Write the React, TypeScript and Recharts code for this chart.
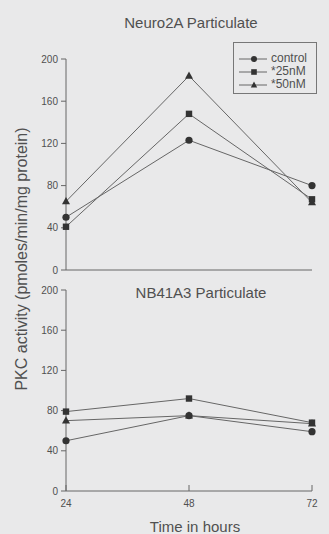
import React from 'react';
import { LineChart, Line, XAxis, YAxis, Legend } from 'recharts';

// time points (hours) and PKC activity per treatment
const hours = [24, 48, 72];
const yTicks = [0, 40, 80, 120, 160, 200];

const neuroControl = [50, 123, 80];
const neuro25nM = [41, 148, 67];
const neuro50nM = [65, 184, 64];

const nbControl = [50, 75, 59];
const nb25nM = [79, 92, 68];
const nb50nM = [70, 75, 67];

const seriesNames = ['control', '*25nM', '*50nM'];

const BG = '#e9e9ea';
const INK = '#505050';
const LINE = '#666';
const MARK = '#333';
const FONT = '"Liberation Sans", Arial, sans-serif';

const buildRows = (c: number[], a: number[], b: number[]) =>
  hours.map((h, i) => ({ hour: h, control: c[i], n25: a[i], n50: b[i] }));

const neuroData = buildRows(neuroControl, neuro25nM, neuro50nM);
const nbData = buildRows(nbControl, nb25nM, nb50nM);

const CircleDot = (p: any) => (
  <circle key={`c-${p.index}`} cx={p.cx} cy={p.cy} r={3.6} fill={MARK} />
);
const SquareDot = (p: any) => (
  <rect key={`s-${p.index}`} x={p.cx - 3.2} y={p.cy - 3.2} width={6.4} height={6.4} fill={MARK} />
);
const TriangleDot = (p: any) => (
  <path
    key={`t-${p.index}`}
    d={`M${p.cx},${p.cy - 4.5} L${p.cx + 4},${p.cy + 2.8} L${p.cx - 4},${p.cy + 2.8} Z`}
    fill={MARK}
  />
);

const legendIcon = (i: number) => {
  const cx = 17;
  const cy = 6;
  return (
    <svg width={30} height={12}>
      <line x1={2} y1={cy} x2={30} y2={cy} stroke={LINE} strokeWidth={1} />
      {i === 0 && <circle cx={cx} cy={cy} r={3} fill={MARK} />}
      {i === 1 && <rect x={cx - 2.8} y={cy - 2.8} width={5.6} height={5.6} fill={MARK} />}
      {i === 2 && <path d={`M${cx},${cy - 3.6} L${cx + 3.2},${cy + 2.4} L${cx - 3.2},${cy + 2.4} Z`} fill={MARK} />}
    </svg>
  );
};

const renderLegend = () => (
  <div
    style={{
      border: '1px solid #777',
      width: 84,
      height: 52,
      boxSizing: 'border-box',
      padding: '9px 0 0 3px',
      fontFamily: FONT,
      fontSize: 12,
      color: INK,
      lineHeight: '13px',
    }}
  >
    {seriesNames.map((n, i) => (
      <div key={n} style={{ display: 'flex', alignItems: 'center', height: 13 }}>
        {legendIcon(i)}
        <span style={{ marginLeft: 4 }}>{n}</span>
      </div>
    ))}
  </div>
);

const BottomTick = (p: any) => (
  <g>
    <line x1={p.x} y1={p.y} x2={p.x} y2={p.y - 6} stroke={LINE} />
    <text x={p.x} y={p.y + 16} textAnchor="middle" fontSize={10} fill={INK} fontFamily={FONT}>
      {p.payload.value}
    </text>
  </g>
);

const yAxisProps = {
  type: 'number' as const,
  domain: [0, 200],
  ticks: yTicks,
  width: 66,
  tickSize: 5,
  tickMargin: 3,
  stroke: LINE,
  tick: { fontSize: 10, fill: INK, fontFamily: FONT },
};

const seriesLines = () => [
  <Line key="n50" dataKey="n50" name="*50nM" stroke={LINE} strokeWidth={1} dot={TriangleDot} isAnimationActive={false} />,
  <Line key="n25" dataKey="n25" name="*25nM" stroke={LINE} strokeWidth={1} dot={SquareDot} isAnimationActive={false} />,
  <Line key="control" dataKey="control" name="control" stroke={LINE} strokeWidth={1} dot={CircleDot} isAnimationActive={false} />,
];

export default function App() {
  return (
    <div
      style={{
        position: 'absolute',
        left: 0,
        top: 0,
        width: 329,
        height: 534,
        background: BG,
        fontFamily: FONT,
        overflow: 'hidden',
      }}
    >
      <div style={{ position: 'absolute', left: 0, top: 0 }}>
        <LineChart width={329} height={280} data={neuroData} margin={{ top: 59, right: 17, bottom: 0, left: 0 }}>
          <XAxis dataKey="hour" type="number" domain={[24, 72]} ticks={hours} height={10} tick={false} tickLine={false} stroke={LINE} />
          <YAxis {...yAxisProps} />
          {seriesLines()}
          {/* centred/middle so the legend does not eat into the plot area */}
          <Legend
            layout="vertical"
            verticalAlign="middle"
            align="center"
            content={renderLegend}
            wrapperStyle={{ top: 42, left: 233, width: 86 }}
          />
        </LineChart>
      </div>
      <div style={{ position: 'absolute', left: 0, top: 280 }}>
        <LineChart width={329} height={254} data={nbData} margin={{ top: 10, right: 17, bottom: 0, left: 0 }}>
          <XAxis
            dataKey="hour"
            type="number"
            domain={[24, 72]}
            ticks={hours}
            height={43}
            tickSize={0}
            tickMargin={0}
            tickLine={false}
            tick={BottomTick}
            stroke={LINE}
          />
          <YAxis {...yAxisProps} />
          {seriesLines()}
        </LineChart>
      </div>
      <svg width={329} height={534} style={{ position: 'absolute', left: 0, top: 0, pointerEvents: 'none' }}>
        <text x={191} y={28} textAnchor="middle" fontSize={15} fill={INK} fontFamily={FONT}>
          Neuro2A Particulate
        </text>
        <text x={201} y={298} textAnchor="middle" fontSize={15} fill={INK} fontFamily={FONT}>
          NB41A3 Particulate
        </text>
        <text x={195} y={532} textAnchor="middle" fontSize={15} fill={INK} fontFamily={FONT}>
          Time in hours
        </text>
        <text
          x={27}
          y={259}
          textAnchor="middle"
          fontSize={16}
          fill={INK}
          fontFamily={FONT}
          transform="rotate(-90 27 259)"
        >
          PKC activity (pmoles/min/mg protein)
        </text>
      </svg>
    </div>
  );
}
